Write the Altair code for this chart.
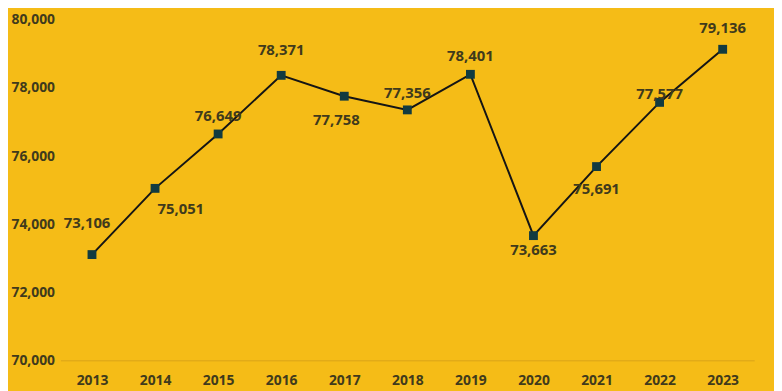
import altair as alt
import pandas as pd

years = ["2013", "2014", "2015", "2016", "2017", "2018", "2019", "2020", "2021", "2022", "2023"]
values = [73106, 75051, 76649, 78371, 77758, 77356, 78401, 73663, 75691, 77577, 79136]

df = pd.DataFrame({"year": years, "value": values})
df["label"] = [f"{v:,}" for v in values]

BG = "#F5BC17"
TXT = "#403a1c"
FONT = "Open Sans"

x = alt.X("year:O", scale=alt.Scale(type="point", padding=0.5),
          axis=alt.Axis(title=None, labelAngle=0, ticks=False, domain=True,
                        domainColor="#D9A41A", domainWidth=1, labelFont=FONT,
                        labelFontSize=14, labelFontWeight="bold", labelColor=TXT,
                        labelPadding=13, grid=False))
y = alt.Y("value:Q", scale=alt.Scale(domain=[70000, 80000], nice=False, zero=False),
          axis=alt.Axis(title=None, values=[70000, 72000, 74000, 76000, 78000, 80000],
                        format=",.0f", ticks=False, domain=False, grid=False,
                        labelFont=FONT, labelFontSize=14, labelFontWeight="bold",
                        labelColor=TXT, labelPadding=6))

base = alt.Chart(df)
line = base.mark_line(color="#151515", strokeWidth=2).encode(x=x, y=y)
pts = base.mark_square(color="#123B40", size=80, opacity=1).encode(x=x, y=y)

# per-point label placement (pixel offsets from each point)
offsets = {
    "2013": (-5, -32), "2014": (26, 21), "2015": (0, -18), "2016": (0, -26),
    "2017": (-8, 24), "2018": (0, -17), "2019": (0, -18), "2020": (0, 15),
    "2021": (0, 23), "2022": (0, -8), "2023": (0, -21),
}
labels = []
for yr, (dx, dy) in offsets.items():
    labels.append(
        base.transform_filter(alt.datum.year == yr)
        .mark_text(font=FONT, fontSize=15, fontWeight="bold", color=TXT,
                   dx=dx, dy=dy, baseline="middle", align="center")
        .encode(x=x, y=y, text="label:N")
    )

chart = alt.layer(line, pts, *labels).properties(
    width=701, height=344,
    background=BG,
    autosize=alt.AutoSizeParams(type="none"),
    padding={"left": 53, "top": 10, "right": 20, "bottom": 30},
).configure_view(stroke=None)

chart.save("out.html", embed_options={"renderer": "svg", "actions": False})
